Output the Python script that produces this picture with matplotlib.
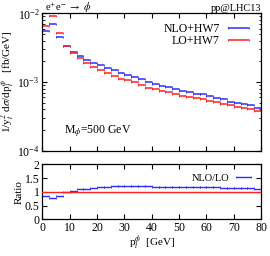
import numpy as np
import matplotlib
matplotlib.use('Agg')
import matplotlib.pyplot as plt
from matplotlib.legend_handler import HandlerErrorbar
from matplotlib.container import ErrorbarContainer

plt.rcParams['font.family'] = ['Liberation Serif', 'DejaVu Serif']
plt.rcParams['mathtext.fontset'] = 'stix'
plt.rcParams['font.size'] = 8.5
plt.rcParams['axes.linewidth'] = 0.9

# bins of 2.5 GeV from 0 to 80
bin_lo = np.arange(0, 80, 2.5)
bin_hi = bin_lo + 2.5

lo_hw7 = [6.46e-3, 9.04e-3, 5.23e-3, 3.38e-3, 2.62e-3, 2.21e-3, 1.91e-3, 1.65e-3,
          1.48e-3, 1.35e-3, 1.24e-3, 1.12e-3, 1.06e-3, 9.9e-4, 9.1e-4, 8.3e-4,
          7.85e-4, 7.45e-4, 7.05e-4, 6.6e-4, 6.3e-4, 6.05e-4, 5.8e-4, 5.6e-4,
          5.3e-4, 5.05e-4, 4.85e-4, 4.6e-4, 4.4e-4, 4.2e-4, 4.0e-4, 3.85e-4]

nlo_hw7 = [5.49e-3, 7.05e-3, 4.50e-3, 3.38e-3, 2.72e-3, 2.41e-3, 2.12e-3, 1.91e-3,
           1.76e-3, 1.61e-3, 1.49e-3, 1.37e-3, 1.27e-3, 1.19e-3, 1.10e-3, 1.01e-3,
           9.34e-4, 8.87e-4, 8.39e-4, 7.85e-4, 7.50e-4, 7.14e-4, 6.73e-4, 6.61e-4,
           6.31e-4, 5.86e-4, 5.58e-4, 5.20e-4, 4.97e-4, 4.75e-4, 4.56e-4, 4.20e-4]

blue = '#2b2bff'
red = '#ff2020'

centers = (bin_lo + bin_hi) / 2
half = (bin_hi - bin_lo) / 2
ratio = np.array(nlo_hw7) / np.array(lo_hw7)

fig = plt.figure(figsize=(2.7, 2.56), dpi=100)
ax1 = fig.add_axes([0.157, 0.411, 0.810, 0.537])
ax2 = fig.add_axes([0.157, 0.143, 0.810, 0.215])

eb_kw = dict(fmt='none', capsize=0.8, elinewidth=1.1, capthick=0.6)
h_nlo = ax1.errorbar(centers, nlo_hw7, xerr=half, ecolor=blue, label='NLO+HW7', **eb_kw)
h_lo = ax1.errorbar(centers, lo_hw7, xerr=half, ecolor=red, label='LO+HW7', **eb_kw)

ax1.set_yscale('log')
ax1.set_xlim(0, 80)
ax1.set_ylim(1e-4, 1e-2)
ax1.set_xticks(np.arange(0, 81, 10))
ax1.set_xticklabels([])
ax1.tick_params(which='both', direction='in', top=True, right=True, length=3.5, pad=2)
ax1.tick_params(which='minor', length=1.8)
ax1.set_ylabel(r'1/y$_t^2$ d$\sigma$/dp$_t^{\phi}$   [fb/GeV]', labelpad=0, fontsize=8)
ax1.legend(handles=[h_nlo, h_lo], loc='upper right', frameon=False, markerfirst=False,
           handlelength=2.2, borderaxespad=0.5, labelspacing=0.05, handletextpad=0.5,
           fontsize=8.5, borderpad=0.3,
           handler_map={ErrorbarContainer: HandlerErrorbar(xerr_size=0.9)})
ax1.text(0.1, 0.12, r'M$_\phi$=500 GeV', transform=ax1.transAxes, fontsize=8.5)
fig.text(0.165, 0.958, r'e$^{+}$e$^{-}$ $\rightarrow$ $\phi$', fontsize=7.5)
fig.text(0.967, 0.958, 'pp@LHC13', fontsize=7.5, ha='right')

ax2.axhline(1.0, color=red, lw=1.0, zorder=3)
h_r = ax2.errorbar(centers, ratio, xerr=half, ecolor=blue, label='NLO/LO',
                   fmt='none', capsize=0.7, elinewidth=1.0, capthick=0.5)
ax2.set_xlim(0, 80)
ax2.set_ylim(0, 2)
ax2.set_xticks(np.arange(0, 81, 10))
ax2.set_yticks([0, 0.5, 1, 1.5, 2])
ax2.set_yticklabels(['0', '0.5', '1', '1.5', '2'])
ax2.tick_params(which='both', direction='in', top=True, right=True, length=3.5, pad=2)
ax2.set_ylabel('Ratio', labelpad=1, fontsize=8)
ax2.set_xlabel(r'p$_t^{\phi}$  [GeV]', labelpad=0, fontsize=8)
ax2.legend(handles=[h_r], loc='upper right', frameon=False, markerfirst=False,
           handlelength=1.6, borderaxespad=0.5, handletextpad=0.5, fontsize=7.5,
           handler_map={ErrorbarContainer: HandlerErrorbar(xerr_size=0.75)})

fig.savefig('out.png', dpi=100)
